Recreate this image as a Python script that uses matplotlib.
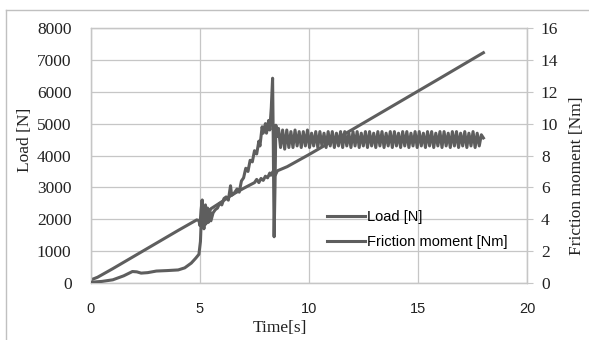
import numpy as np
import matplotlib
matplotlib.use('Agg')
import matplotlib.pyplot as plt
from matplotlib.lines import Line2D

# Load [N] against time [s]
load_t = [0, 0.3, 1, 2, 3, 4, 4.85, 4.95, 5.0, 5.05, 5.1, 5.15, 5.2, 5.25, 5.3,
          5.35, 5.4, 5.5, 6, 6.5, 7, 7.5, 7.6, 7.7, 7.8, 7.9, 8.0, 8.1, 8.2,
          8.25, 8.35, 8.45, 8.55, 9, 10, 12, 14, 16, 18]
load_N = [100, 180, 450, 850, 1250, 1650, 1980, 1960, 1800, 2300, 2600, 2000,
          1850, 2450, 2100, 2350, 2200, 2330, 2550, 2780, 2970, 3150, 3250,
          3150, 3280, 3220, 3350, 3300, 3450, 3380, 3500, 3380, 3520, 3650,
          4030, 4820, 5620, 6420, 7225]

# Friction moment [Nm] against time [s], start-up part
fric_t = [0, 0.5, 1.0, 1.5, 1.9, 2.1, 2.3, 2.6, 3.0, 3.5, 4.0, 4.3, 4.6, 4.8,
          4.95, 5.02, 5.06, 5.1, 5.14, 5.18, 5.22, 5.27, 5.32, 5.38, 5.45, 5.5,
          5.6, 5.7, 5.8, 5.9, 6.0, 6.1, 6.2, 6.3, 6.4, 6.45, 6.55, 6.7, 6.8,
          6.9, 7.0, 7.1, 7.2, 7.3, 7.4, 7.5, 7.6, 7.7, 7.75, 7.85, 7.9, 8.0,
          8.05, 8.15, 8.2, 8.27, 8.33, 8.36, 8.4, 8.44, 8.48, 8.55]
fric_Nm = [0.05, 0.1, 0.2, 0.45, 0.72, 0.7, 0.62, 0.65, 0.75, 0.78, 0.82, 0.95,
           1.25, 1.55, 1.8, 2.6, 4.0, 5.2, 4.4, 3.4, 4.8, 3.7, 4.6, 3.8, 4.5,
           3.9, 4.4, 4.6, 4.7, 5.0, 4.9, 5.3, 5.4, 5.2, 6.1, 5.5, 5.6, 5.9, 5.7,
           6.4, 6.6, 7.2, 7.0, 7.7, 7.6, 8.3, 8.1, 8.9, 8.6, 9.8, 9.4, 10.0,
           9.4, 10.2, 9.6, 11.0, 12.85, 9.0, 2.9, 6.0, 9.9, 9.2]

# steady oscillating part, 8.6 s to 18 s
osc_start, osc_end = 8.6, 18.0
osc_Nm = [9.7, 8.5, 9.6, 8.4, 9.6, 8.5, 9.5, 8.5, 9.6, 8.6,
          9.5, 8.5, 9.5, 8.6, 9.6, 8.5, 9.4, 8.6, 9.5, 8.5,
          9.5, 8.6, 9.4, 8.5, 9.5, 8.6, 9.5, 8.5, 9.4, 8.6,
          9.5, 8.5, 9.5, 8.6, 9.4, 8.5, 9.5, 8.6, 9.5, 8.5,
          9.4, 8.6, 9.5, 8.5, 9.5, 8.6, 9.4, 8.5, 9.5, 8.6,
          9.5, 8.5, 9.4, 8.6, 9.5, 8.5, 9.5, 8.6, 9.4, 8.5,
          9.5, 8.6, 9.5, 8.5, 9.4, 8.6, 9.5, 8.5, 9.5, 8.6,
          9.4, 8.5, 9.5, 8.6, 9.5, 8.5, 9.4, 8.6, 9.5, 8.5,
          9.5, 8.6, 9.4, 8.5, 9.5, 8.6, 9.5, 8.5, 9.4, 8.6,
          9.5, 8.5, 9.4, 8.6, 9.5, 8.5, 9.4, 8.6, 9.3, 9.1]

x_ticks = [0, 5, 10, 15, 20]
load_ticks = [0, 1000, 2000, 3000, 4000, 5000, 6000, 7000, 8000]
fric_ticks = [0, 2, 4, 6, 8, 10, 12, 14, 16]

line_col = '#5e5e5e'
grid_col = '#c6c6c6'
serif = 'Liberation Serif'
sans = 'Liberation Sans'

fric_all_t = np.concatenate([fric_t, np.linspace(osc_start, osc_end, len(osc_Nm))])
fric_all = np.concatenate([fric_Nm, osc_Nm])

fig = plt.figure(figsize=(5.89, 3.40), dpi=100)
ax = fig.add_axes([91/589, 1-283/340, (527-91)/589, (283-28)/340])
ax2 = ax.twinx()

# outer chart frame
fig.add_artist(Line2D([6/589, 6/589], [-0.1, 1-10/340], transform=fig.transFigure,
                      color='#c0c0c0', lw=1.0))
fig.add_artist(Line2D([6/589, 1.1], [1-10/340, 1-10/340], transform=fig.transFigure,
                      color='#c0c0c0', lw=1.0))

l1, = ax.plot(load_t, load_N, color=line_col, lw=2.2, label='Load [N]', zorder=3)
l2, = ax2.plot(fric_all_t, fric_all, color=line_col, lw=2.2,
               label='Friction moment [Nm]', zorder=3)

ax.set_xlim(0, 20)
ax.set_ylim(0, 8000)
ax2.set_ylim(0, 16)
ax.set_xticks(x_ticks)
ax.set_yticks(load_ticks)
ax2.set_yticks(fric_ticks)

ax.grid(True, color=grid_col, lw=0.9)
ax.set_axisbelow(True)
for a in (ax, ax2):
    for s in a.spines.values():
        s.set_color(grid_col)
        s.set_linewidth(0.9)

ax.tick_params(axis='y', length=0, pad=14, labelsize=12.5, labelcolor='#222222')
ax.tick_params(axis='x', length=0, pad=14, labelsize=10.5, labelcolor='#222222')
ax2.tick_params(axis='y', length=4, color=grid_col, pad=6, labelsize=12.5,
                labelcolor='#222222')
for lab in ax.get_yticklabels() + ax2.get_yticklabels():
    lab.set_family(serif)
for lab in ax.get_xticklabels():
    lab.set_family(sans)

fig.text(25/589, 1-140/340, 'Load [N]', rotation=90, ha='center', va='center',
         family=serif, fontsize=12.5, color='#222222')
fig.text(577/589, 1-176/340, 'Friction moment [Nm]', rotation=90, ha='center',
         va='center', family=serif, fontsize=12.5, color='#222222')
fig.text(280/589, 1-328/340, 'Time[s]', ha='center', va='center',
         family=serif, fontsize=12.5, color='#222222')

leg = ax2.legend(handles=[l1, l2], loc='upper left',
                 bbox_to_anchor=((320-91)/436, (283-203)/255), frameon=False,
                 prop={'family': sans, 'size': 10.5}, handlelength=2.6,
                 handletextpad=0.15, labelspacing=0.75, borderpad=0)

fig.savefig('out.png', dpi=100)
